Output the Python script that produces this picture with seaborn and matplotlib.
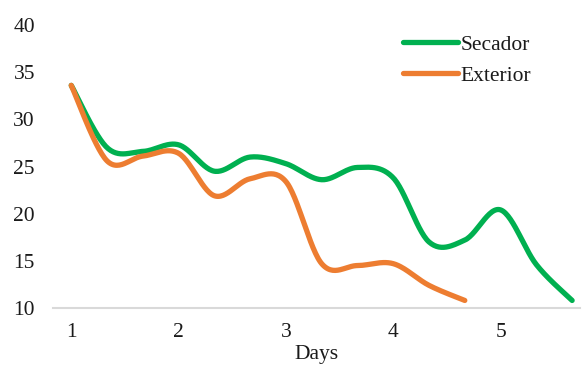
import numpy as np
import pandas as pd
import matplotlib
matplotlib.use("Agg")
import matplotlib.pyplot as plt
import seaborn as sns

# Data: readings every 1/3 day
days_secador = [1, 4/3, 5/3, 2, 7/3, 8/3, 3, 10/3, 11/3, 4, 13/3, 14/3, 5, 16/3, 17/3]
secador = [33.6, 27.0, 26.6, 27.3, 24.5, 26.0, 25.3, 23.6, 24.9, 23.8, 17.0, 17.2, 20.4, 14.6, 10.8]
days_exterior = [1, 4/3, 5/3, 2, 7/3, 8/3, 3, 10/3, 11/3, 4, 13/3, 14/3]
exterior = [33.6, 25.6, 26.1, 26.4, 21.9, 23.7, 23.4, 14.7, 14.5, 14.7, 12.4, 10.8]
x_ticks = [1, 2, 3, 4, 5]
y_ticks = [10, 15, 20, 25, 30, 35, 40]


def smooth(xs, ys, n=30):
    """Excel-style smoothed line (Catmull-Rom Bezier) through the points."""
    P = np.column_stack([xs, ys]).astype(float)
    P = np.vstack([P[0], P, P[-1]])
    out = []
    t = np.linspace(0, 1, n)[:, None]
    for i in range(1, len(P) - 2):
        p0, p1, p2, p3 = P[i - 1], P[i], P[i + 1], P[i + 2]
        c1 = p1 + (p2 - p0) / 6
        c2 = p2 - (p3 - p1) / 6
        seg = ((1 - t) ** 3) * p1 + 3 * ((1 - t) ** 2) * t * c1 + 3 * (1 - t) * t ** 2 * c2 + t ** 3 * p2
        out.append(seg if i == 1 else seg[1:])
    return np.vstack(out)

sns.set_theme(style="white")
plt.rcParams['font.family'] = ['Liberation Serif', 'DejaVu Serif']

fig = plt.figure(figsize=(5.83, 3.65), dpi=100)
ax = fig.add_axes([53/583, (365-308)/365, (580-53)/583, (308-25)/365])

frames = []
for name, xs, ys in [("Secador", days_secador, secador), ("Exterior", days_exterior, exterior)]:
    s = smooth(xs, ys)
    frames.append(pd.DataFrame({"Days": s[:, 0], "value": s[:, 1], "serie": name, "order": np.arange(len(s))}))
df = pd.concat(frames, ignore_index=True)

sns.lineplot(data=df, x="Days", y="value", hue="serie", sort=False, estimator=None, units="serie",
             palette={"Secador": "#00B050", "Exterior": "#ED7D31"}, linewidth=3.8,
             ax=ax, legend=True)
for ln in ax.get_lines():
    ln.set_solid_capstyle("round")

FS = 15.5
ax.set_xlim(0.83, 5.74)
ax.set_ylim(10, 40)
ax.set_xticks(x_ticks)
ax.set_xticklabels([str(v) for v in x_ticks])
ax.set_yticks(y_ticks)
ax.set_yticklabels([str(v) for v in y_ticks])
ax.tick_params(axis="both", length=0, labelsize=FS, colors="#1a1a1a")
ax.tick_params(axis="x", pad=11)
ax.tick_params(axis="y", pad=13)
for sp in ["top", "right", "left"]:
    ax.spines[sp].set_visible(False)
ax.spines["bottom"].set_color("#d9d9d9")
ax.spines["bottom"].set_linewidth(1.5)
ax.set_ylabel("")
ax.set_xlabel("Days", fontsize=FS, color="#1a1a1a", labelpad=2)

leg = ax.legend(loc="upper left", bbox_to_anchor=(394/583, 1 - 26/365), bbox_transform=fig.transFigure,
                frameon=False, fontsize=FS, handlelength=2.55, handletextpad=0.15, labelspacing=0.5,
                borderaxespad=0)
for h in leg.get_lines():
    h.set_linewidth(3.8)
    h.set_solid_capstyle("round")
for t in leg.get_texts():
    t.set_color("#1a1a1a")

fig.savefig("out.png", dpi=100)
